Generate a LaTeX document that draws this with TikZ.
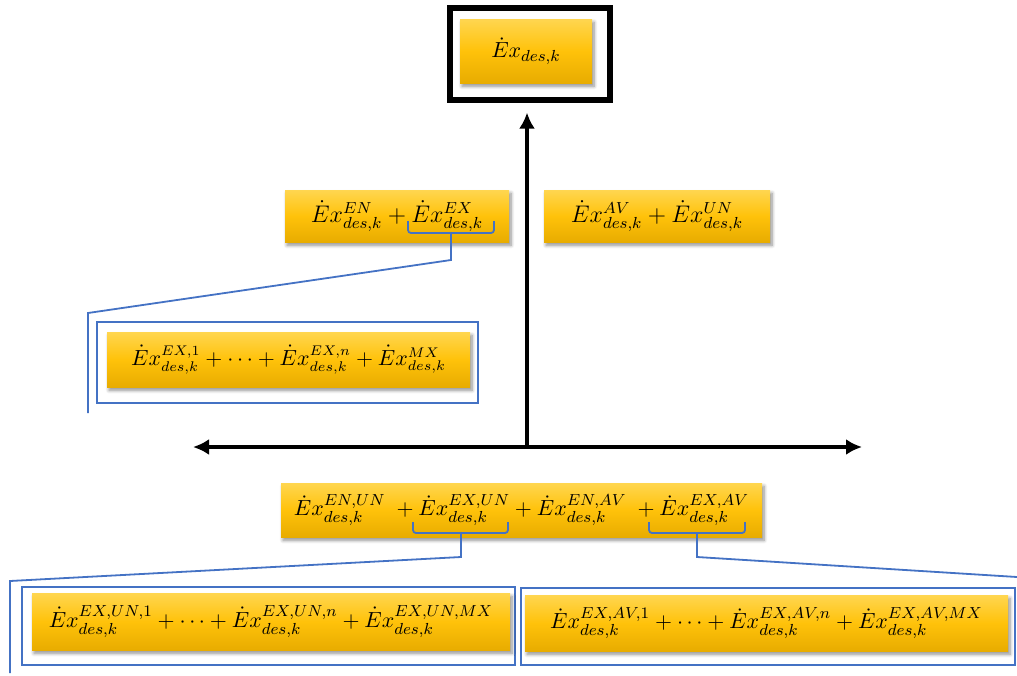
\documentclass[tikz,border=0pt]{standalone}
\usepackage{amsmath}
\usepackage{tikz}
\definecolor{ytop}{RGB}{255, 214, 80}
\definecolor{ymid}{RGB}{255, 194, 10}
\definecolor{ybot}{RGB}{232, 172, 0}
\definecolor{bl}{RGB}{68, 114, 196}
\usetikzlibrary{arrows.meta}
\usetikzlibrary{shadows.blur}

\tikzset{
  ybox/.style={rectangle, inner sep=0pt, outer sep=0pt, top color=ytop, bottom color=ybot, middle color=ymid,
    blur shadow={shadow xshift=1pt, shadow yshift=-1.6pt, shadow blur steps=6, shadow opacity=45}},
  bframe/.style={rectangle, inner sep=0pt, outer sep=0pt, draw=bl, line width=1pt},
  bline/.style={draw=bl, line width=0.9pt},
  bbrace/.style={draw=bl, line width=0.9pt, rounded corners=1.5pt},
  axis/.style={line width=2pt, color=black, -{Latex[length=8pt, width=8pt]}}
}

\begin{document}
\begin{tikzpicture}[x=0.5pt, y=-0.5pt]
\useasboundingbox (0,0) rectangle (1017,675);
\node (top) [rectangle, draw=black, line width=2.6pt, minimum width=80pt, minimum height=46pt] at (530, 54) {};
\node (exd) [ybox, minimum width=66pt, minimum height=32pt, font=\fontsize{11}{13}\selectfont] at (526, 51) {$\dot{E}x_{des,k}$};
\node (enex) [ybox, minimum width=112pt, minimum height=26pt, font=\fontsize{12}{14}\selectfont] at (397, 216) {$\dot{E}x^{EN}_{des,k}+\dot{E}x^{EX}_{des,k}$};
\node (avun) [ybox, minimum width=113pt, minimum height=26pt, font=\fontsize{12}{14}\selectfont] at (657, 216) {$\dot{E}x^{AV}_{des,k}+\dot{E}x^{UN}_{des,k}$};
\node (exfr) [bframe, minimum width=190.5pt, minimum height=40.5pt] at (287.5, 362.5) {};
\node (exsum) [ybox, minimum width=181.5pt, minimum height=27.5pt, font=\fontsize{10.6}{13}\selectfont] at (288.5, 359.5) {$\dot{E}x^{EX,1}_{des,k}+\cdots+\dot{E}x^{EX,n}_{des,k}+\dot{E}x^{MX}_{des,k}$};
\node (all) [ybox, minimum width=240.5pt, minimum height=27pt, font=\fontsize{11}{13}\selectfont] at (521.5, 510) {$\dot{E}x^{EN,UN}_{des,k}\;+\dot{E}x^{EX,UN}_{des,k}+\dot{E}x^{EN,AV}_{des,k}\;+\dot{E}x^{EX,AV}_{des,k}$};
\node (unfr) [bframe, minimum width=246.5pt, minimum height=39pt] at (268.5, 626) {};
\node (unsum) [ybox, minimum width=239pt, minimum height=28.5pt, font=\fontsize{10.8}{13}\selectfont] at (271, 621.5) {$\dot{E}x^{EX,UN,1}_{des,k}+\cdots+\dot{E}x^{EX,UN,n}_{des,k}+\dot{E}x^{EX,UN,MX}_{des,k}$};
\node (avfr) [bframe, minimum width=247pt, minimum height=38.5pt] at (768, 626.5) {};
\node (avsum) [ybox, minimum width=241.5pt, minimum height=28pt, font=\fontsize{10.8}{13}\selectfont] at (766.5, 623) {$\dot{E}x^{EX,AV,1}_{des,k}+\cdots+\dot{E}x^{EX,AV,n}_{des,k}+\dot{E}x^{EX,AV,MX}_{des,k}$};
\coordinate (origin) at (527, 447);
\coordinate (axl) at (193, 447);
\coordinate (axr) at (862, 447);
\coordinate (exstem) at (451, 260);
\coordinate (exfoot) at (88, 313);
\coordinate (exend) at (88, 413);
\coordinate (unstem) at (461, 557);
\coordinate (unfoot) at (10, 581);
\coordinate (unend) at (10, 673);
\coordinate (avstem) at (697, 557);
\coordinate (avend) at (1017, 577);
\draw [axis, shorten >=5pt] (origin) to (origin |- top.south);
\draw [axis] (origin) to (axl);
\draw [axis] (origin) to (axr);
\draw [bbrace] (408, 221) -- (408, 233) -- (494, 233) -- (494, 221);
\draw [bbrace] (413, 522) -- (413, 533) -- (508, 533) -- (508, 522);
\draw [bbrace] (649, 522) -- (649, 533) -- (745, 533) -- (745, 522);
\draw [bline] (451, 233) -- (exstem) -- (exfoot) -- (exend);
\draw [bline] (461, 533) -- (unstem) -- (unfoot) -- (unend);
\draw [bline] (697, 533) -- (avstem) -- (avend);
\end{tikzpicture}
\end{document}
